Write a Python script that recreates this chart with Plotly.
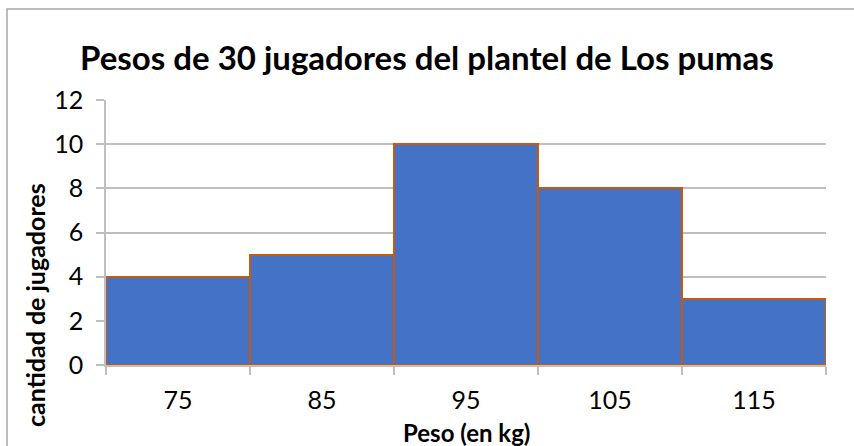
import plotly.graph_objects as go

# Weight classes (kg, class midpoints) and number of players in each
peso_labels = ["75", "85", "95", "105", "115"]
jugadores = [4, 5, 10, 8, 3]
ancho_clase = 10

marcas = [float(v) for v in peso_labels]
borde_min = marcas[0] - ancho_clase / 2
borde_max = marcas[-1] + ancho_clase / 2

W, H = 854, 446
ML, MR, MT, MB = 106, 28, 100, 81
PW, PH = W - ML - MR, H - MT - MB


def px_x(px):
    return (px - ML) / PW


def px_y(py):
    return (H - MB - py) / PH


FONT = "Lato"
GRID = "#BFBFBF"

fig = go.Figure(
    go.Bar(
        x=marcas,
        y=jugadores,
        width=[ancho_clase] * len(marcas),
        marker=dict(color="#4472C4", line=dict(color="#C55A11", width=2)),
        hoverinfo="x+y",
    )
)

fig.update_layout(
    width=W,
    height=H,
    margin=dict(l=ML, r=MR, t=MT, b=MB),
    paper_bgcolor="white",
    plot_bgcolor="white",
    bargap=0,
    showlegend=False,
    font=dict(family=FONT, size=25, color="#000000"),
)

fig.update_xaxes(
    range=[borde_min, borde_max],
    tickvals=marcas,
    ticktext=peso_labels,
    ticks="",
    ticklabelstandoff=12,
    showgrid=False,
    showline=True,
    linecolor=GRID,
    linewidth=1.5,
    zeroline=False,
    minor=dict(
        tick0=borde_min,
        dtick=ancho_clase,
        ticks="outside",
        ticklen=8,
        tickcolor=GRID,
        tickwidth=1.5,
        showgrid=False,
    ),
)

fig.update_yaxes(
    range=[0, 12],
    tick0=0,
    dtick=2,
    ticks="outside",
    ticklen=8,
    tickcolor=GRID,
    tickwidth=1.5,
    ticklabelstandoff=8,
    showgrid=True,
    gridcolor=GRID,
    gridwidth=1.5,
    showline=True,
    linecolor=GRID,
    linewidth=1.5,
    zeroline=False,
)

fig.add_annotation(
    text="<b>Pesos de 30 jugadores del plantel de Los pumas</b>",
    xref="paper", yref="paper",
    x=px_x(427), y=px_y(57),
    xanchor="center", yanchor="middle",
    showarrow=False,
    font=dict(family=FONT, size=33),
)
fig.add_annotation(
    text="<b>Peso (en kg)</b>",
    xref="paper", yref="paper",
    x=px_x(466), y=px_y(432),
    xanchor="center", yanchor="middle",
    showarrow=False,
    font=dict(family=FONT, size=24),
)
fig.add_annotation(
    text="<b>cantidad de jugadores</b>",
    xref="paper", yref="paper",
    x=px_x(35), y=px_y(305),
    xanchor="center", yanchor="middle",
    textangle=-90,
    showarrow=False,
    font=dict(family=FONT, size=25),
)

# Chart frame
fig.add_shape(
    type="rect",
    xref="paper", yref="paper",
    x0=px_x(7), x1=px_x(W + 4),
    y0=px_y(H + 4), y1=px_y(9),
    line=dict(color="#A6A6A6", width=1.5),
    fillcolor="rgba(0,0,0,0)",
    layer="below",
)

fig.write_html("out.html")
